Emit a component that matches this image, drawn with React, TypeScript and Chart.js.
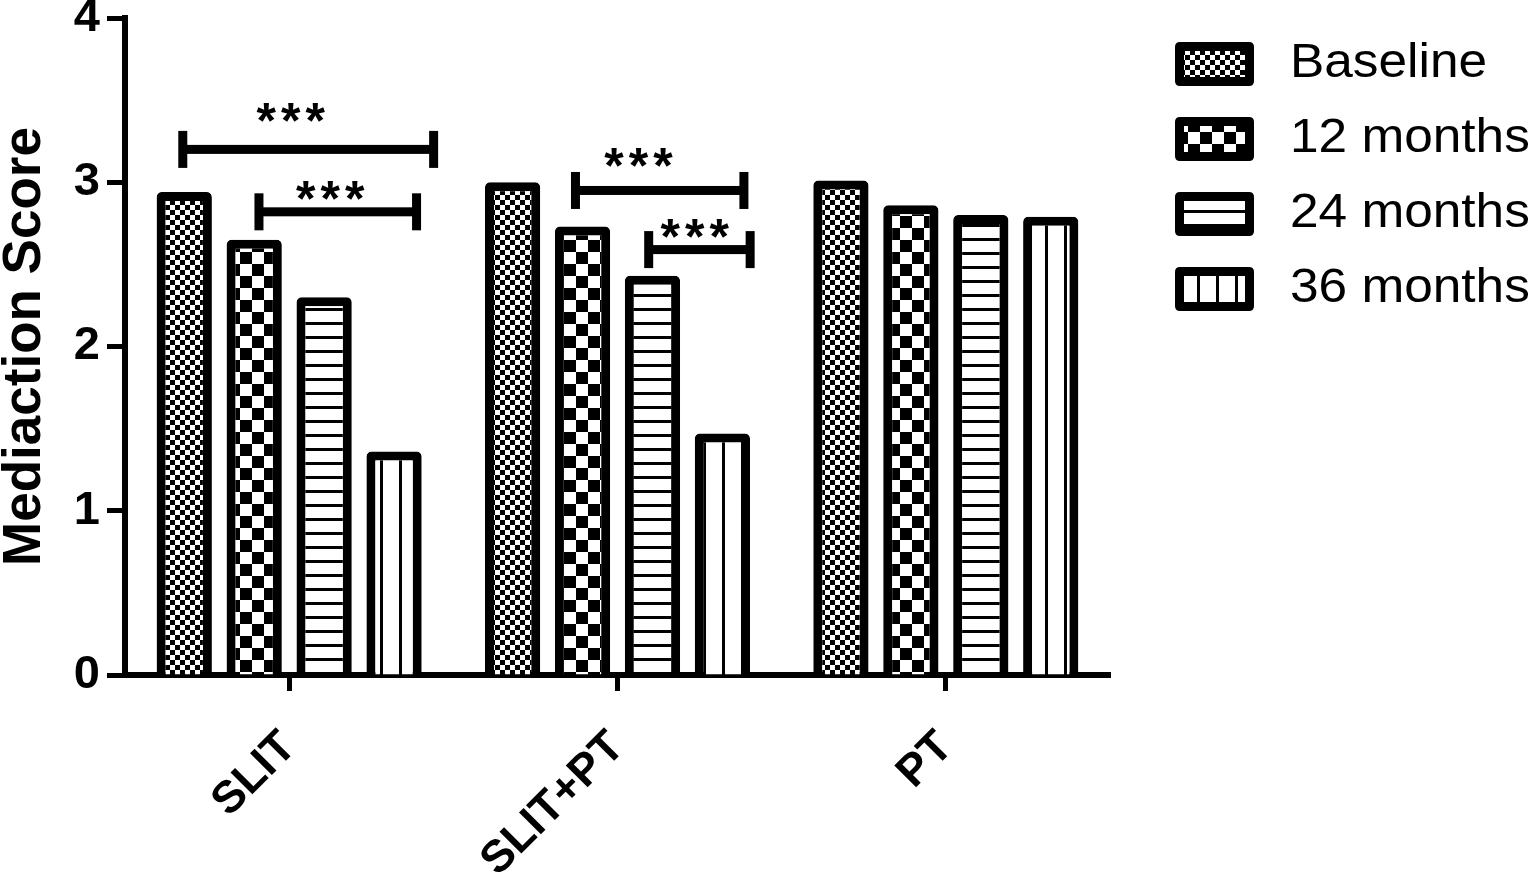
import React, { useEffect, useRef } from 'react';
import { Chart, registerables } from 'chart.js';

Chart.register(...registerables);

// ---------- data ----------
const categories = ['SLIT', 'SLIT+PT', 'PT'];
const seriesNames = ['Baseline', '12 months', '24 months', '36 months'];
const baseline = [2.94, 3.0, 3.01];
const months12 = [2.65, 2.73, 2.86];
const months24 = [2.3, 2.43, 2.8];
const months36 = [1.36, 1.47, 2.79];
const yTickValues = [0, 1, 2, 3, 4];
const yTitle = 'Mediaction Score';

// significance brackets (category index, span in category fractions, value level, label)
const bracketCats = [0, 0, 1, 1];
const bracketFrom = [-0.324, -0.092, -0.128, 0.095];
const bracketTo = [0.44, 0.388, 0.385, 0.404];
const bracketLevel = [3.2, 2.82, 2.95, 2.59];
const bracketLabelAt = [0.005, 0.125, 0.064, 0.235];
const bracketLabelLevel = [3.44, 2.965, 3.166, 2.734];
const bracketLabels = ['***', '***', '***', '***'];

const FONT = "'Liberation Sans', Arial, sans-serif";

function makePattern(kind: string): CanvasPattern | string {
  const c = document.createElement('canvas');
  const ctx = c.getContext('2d');
  if (!ctx) return '#fff';
  if (kind === 'fine') {
    c.width = 10; c.height = 10;
    ctx.fillStyle = '#fff'; ctx.fillRect(0, 0, 10, 10);
    ctx.fillStyle = '#000'; ctx.fillRect(0, 0, 5, 5); ctx.fillRect(5, 5, 5, 5);
  } else if (kind === 'coarse') {
    c.width = 24; c.height = 24;
    ctx.fillStyle = '#fff'; ctx.fillRect(0, 0, 24, 24);
    ctx.fillStyle = '#000'; ctx.fillRect(12, 0, 12, 12); ctx.fillRect(0, 12, 12, 12);
  } else if (kind === 'hlines') {
    c.width = 4; c.height = 14;
    ctx.fillStyle = '#fff'; ctx.fillRect(0, 0, 4, 14);
    ctx.fillStyle = '#000'; ctx.fillRect(0, 0, 4, 3);
  } else {
    c.width = 19; c.height = 4;
    ctx.fillStyle = '#fff'; ctx.fillRect(0, 0, 19, 4);
    ctx.fillStyle = '#000'; ctx.fillRect(0, 0, 3, 4);
  }
  const p = ctx.createPattern(c, 'repeat');
  return p || '#fff';
}

function roundRect(ctx: CanvasRenderingContext2D, x: number, y: number, w: number, h: number, r: number) {
  ctx.beginPath();
  ctx.moveTo(x + r, y);
  ctx.lineTo(x + w - r, y);
  ctx.quadraticCurveTo(x + w, y, x + w, y + r);
  ctx.lineTo(x + w, y + h - r);
  ctx.quadraticCurveTo(x + w, y + h, x + w - r, y + h);
  ctx.lineTo(x + r, y + h);
  ctx.quadraticCurveTo(x, y + h, x, y + h - r);
  ctx.lineTo(x, y + r);
  ctx.quadraticCurveTo(x, y, x + r, y);
  ctx.closePath();
}

const sigPlugin = {
  id: 'sigBrackets',
  afterDraw(chart: any) {
    const ctx: CanvasRenderingContext2D = chart.ctx;
    const xs = chart.scales.x;
    const ys = chart.scales.y;
    const catW = xs.getPixelForValue(1) - xs.getPixelForValue(0);
    ctx.save();
    ctx.fillStyle = '#000';
    for (let i = 0; i < bracketCats.length; i++) {
      const c = xs.getPixelForValue(bracketCats[i]);
      const x1 = c + bracketFrom[i] * catW;
      const x2 = c + bracketTo[i] * catW;
      const yp = ys.getPixelForValue(bracketLevel[i]);
      ctx.fillRect(x1, yp - 4.5, x2 - x1, 9);
      ctx.fillRect(x1 - 4.5, yp - 18.5, 9, 37);
      ctx.fillRect(x2 - 4.5, yp - 18.5, 9, 37);
      const tx = c + bracketLabelAt[i] * catW;
      const ty = ys.getPixelForValue(bracketLabelLevel[i]);
      ctx.font = `bold 50px ${FONT}`;
      (ctx as any).letterSpacing = '5px';
      ctx.textAlign = 'center';
      ctx.textBaseline = 'alphabetic';
      ctx.fillText(bracketLabels[i], tx + 2.5, ty + 28);
    }
    ctx.restore();

    // legend
    ctx.save();
    const ds = chart.data.datasets;
    for (let i = 0; i < ds.length; i++) {
      const top = 42 + 75 * i;
      const bx = 1175, bw = 79, bh = 44, bwid = 9;
      ctx.fillStyle = '#000';
      roundRect(ctx, bx, top, bw, bh, 5);
      ctx.fill();
      ctx.fillStyle = ds[i].backgroundColor;
      ctx.fillRect(bx + bwid, top + bwid, bw - 2 * bwid, bh - 2 * bwid);
      ctx.fillStyle = '#000';
      ctx.font = `48px ${FONT}`;
      ctx.textAlign = 'left';
      ctx.textBaseline = 'alphabetic';
      ctx.translate(1290, 77 + 75 * i);
      ctx.scale(1.07, 1);
      ctx.fillText(ds[i].label, 0, 0);
      ctx.setTransform(1, 0, 0, 1, 0, 0);
    }
    ctx.restore();
  },
};

export default function App() {
  const ref = useRef<HTMLCanvasElement | null>(null);
  useEffect(() => {
    if (!ref.current) return;
    const patterns = ['fine', 'coarse', 'hlines', 'vlines'].map(makePattern);
    const values = [baseline, months12, months24, months36];
    const chart = new Chart(ref.current, {
      type: 'bar',
      data: {
        labels: categories,
        datasets: seriesNames.map((name, i) => ({
          label: name,
          data: values[i],
          backgroundColor: patterns[i] as any,
          borderColor: '#000',
          borderWidth: 9,
          borderRadius: 5,
          borderSkipped: 'start' as const,
          barPercentage: 0.79,
          categoryPercentage: 0.852,
        })),
      },
      options: {
        responsive: false,
        animation: false,
        devicePixelRatio: 1,
        layout: { padding: { top: 18, right: 425, left: 0, bottom: 0 } },
        plugins: {
          legend: { display: false },
          tooltip: { enabled: false },
          title: { display: false },
        },
        scales: {
          x: {
            z: 1,
            border: { display: true, color: '#000', width: 6 },
            grid: {
              display: true,
              drawOnChartArea: false,
              drawTicks: true,
              offset: false,
              tickLength: 16,
              tickWidth: 5,
              tickColor: '#000',
            },
            ticks: {
              autoSkip: false,
              maxRotation: 45,
              minRotation: 45,
              padding: 30,
              color: '#000',
              font: { family: FONT, size: 45, weight: 'bold' },
            },
            afterFit(s: any) {
              s.height = 881 - 675;
              s.paddingLeft = 0;
              s.paddingRight = 0;
            },
          },
          y: {
            min: 0,
            max: 4,
            border: { display: true, color: '#000', width: 6 },
            grid: {
              display: true,
              drawOnChartArea: false,
              drawTicks: true,
              tickLength: 18,
              tickWidth: 5,
              tickColor: '#000',
            },
            afterBuildTicks(s: any) {
              s.ticks = yTickValues.map((v) => ({ value: v }));
            },
            ticks: {
              padding: 7,
              color: '#000',
              font: { family: FONT, size: 47, weight: 'bold', lineHeight: 0.7 },
            },
            title: {
              display: true,
              text: yTitle,
              color: '#000',
              padding: { top: 0, bottom: 0 },
              font: { family: FONT, size: 53, weight: 'bold', lineHeight: 0.95 },
            },
            afterFit(s: any) {
              s.width = 125;
              s.paddingTop = 0;
              s.paddingBottom = 0;
            },
          },
        },
      },
      plugins: [sigPlugin],
    });
    return () => chart.destroy();
  }, []);
  return (
    <div style={{ position: 'absolute', left: 0, top: 0, width: 1535, height: 881, background: '#fff' }}>
      <canvas ref={ref} width={1535} height={881} />
    </div>
  );
}
